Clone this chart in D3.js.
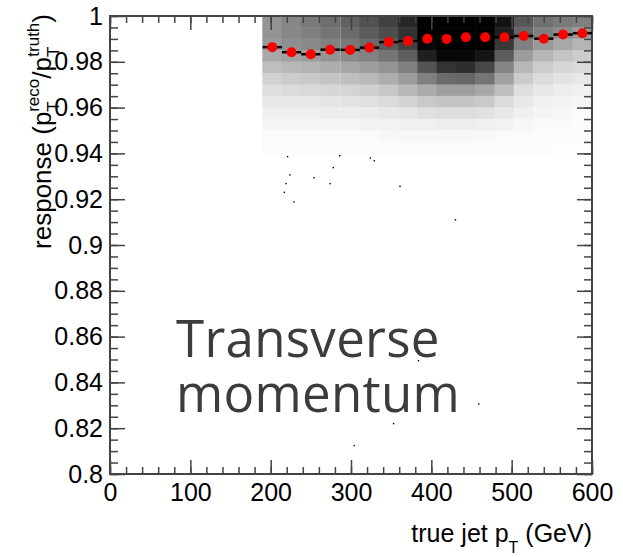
<!DOCTYPE html>
<html>
<head>
<meta charset="utf-8">
<script src="https://cdn.jsdelivr.net/npm/d3@7"></script>
<style>
  body { margin: 0; background: #fff; }
  svg { display: block; }
</style>
</head>
<body>
<div id="chart"></div>
<script>
// profile points (mean response per true-pT bin)
var profileX = [202, 226, 250, 274, 299, 323, 347, 371, 395, 419, 443, 467, 491, 515, 540, 564, 588];
var profileY = [0.9864, 0.9842, 0.9833, 0.9853, 0.9852, 0.9862, 0.9886, 0.9891, 0.9901, 0.9900,
                0.9907, 0.9907, 0.9907, 0.9913, 0.9901, 0.9919, 0.9925];
var binHalf = 12;

// scatter cloud, read as fraction of ink per cell (columns = pT bins, rows = response bins)
var rowTop = [1.0, 0.995, 0.99, 0.985, 0.98, 0.975, 0.97, 0.965, 0.96, 0.955, 0.95, 0.945];
var rowH = 0.005;
var density = [
  [.42,.42,.40,.34,.25,.18,.13,.09,.06,.04,.02,.01],
  [.47,.47,.44,.37,.28,.20,.14,.09,.06,.04,.02,.01],
  [.52,.50,.46,.39,.30,.21,.15,.09,.06,.04,.02,.01],
  [.57,.54,.49,.42,.32,.23,.16,.10,.07,.04,.02,.01],
  [.62,.58,.53,.46,.35,.25,.17,.11,.07,.04,.02,.01],
  [.68,.64,.58,.49,.38,.28,.19,.12,.08,.05,.02,.01],
  [.75,.70,.64,.54,.42,.32,.22,.14,.09,.05,.03,.01],
  [.85,.80,.74,.63,.50,.39,.28,.17,.10,.06,.03,.015],
  [1,1,.97,.88,.67,.50,.33,.21,.12,.06,.03,.015],
  [1,1,1,.97,.80,.58,.38,.23,.13,.07,.03,.015],
  [1,1,1,.97,.82,.60,.38,.23,.13,.07,.03,.015],
  [1,1,1,.92,.72,.54,.34,.21,.12,.06,.03,.01],
  [.92,.88,.78,.64,.48,.37,.25,.14,.09,.05,.02,.01],
  [.66,.60,.50,.39,.28,.20,.13,.09,.06,.03,.02,.01],
  [.56,.50,.40,.29,.20,.14,.09,.06,.04,.02,.01,.01],
  [.52,.45,.34,.23,.16,.11,.07,.05,.03,.02,.01,.005],
  [.50,.40,.29,.20,.14,.09,.06,.04,.02,.01,.01,.005]
];

// isolated entries below the cloud
var outX = [221, 224, 254, 278, 286, 324, 329, 219, 274, 361, 217, 229, 430, 384, 459, 353, 304];
var outY = [0.9386, 0.9306, 0.9294, 0.9338, 0.9390, 0.9380, 0.9368, 0.9268, 0.9268, 0.9256,
            0.9230, 0.9188, 0.9110, 0.8495, 0.8306, 0.8220, 0.8124];

var xTicks = [0, 100, 200, 300, 400, 500, 600];
var yTicks = [0.8, 0.82, 0.84, 0.86, 0.88, 0.9, 0.92, 0.94, 0.96, 0.98, 1];

var margin = {top: 16, right: 31, bottom: 83, left: 110},
    W = 623, H = 557,
    width = W - margin.left - margin.right,
    height = H - margin.top - margin.bottom;

var svg = d3.select("#chart").append("svg")
  .attr("width", W).attr("height", H);

var x = d3.scaleLinear().domain([0, 600]).range([margin.left, margin.left + width]);
var y = d3.scaleLinear().domain([0.8, 1]).range([margin.top + height, margin.top]);

var frameCol = "#444";
var font = "'Liberation Sans', Arial, Helvetica, sans-serif";

// cloud cells
var cells = [];
density.forEach(function(col, i) {
  col.forEach(function(d, j) {
    cells.push({x0: profileX[i] - binHalf, x1: profileX[i] + binHalf, top: rowTop[j], d: d});
  });
});
svg.append("g").selectAll("rect")
  .data(cells)
  .enter().append("rect")
    .attr("x", function(d) { return x(d.x0) - 0.3; })
    .attr("width", function(d) { return x(d.x1) - x(d.x0) + 0.6; })
    .attr("y", function(d) { return y(d.top) - 0.3; })
    .attr("height", function(d) { return y(d.top - rowH) - y(d.top) + 0.6; })
    .style("fill", function(d) { var g = Math.round(255 * (1 - d.d)); return "rgb(" + g + "," + g + "," + g + ")"; });

svg.append("g").selectAll("rect")
  .data(outX)
  .enter().append("rect")
    .attr("x", function(d) { return x(d) - 0.7; })
    .attr("y", function(d, i) { return y(outY[i]) - 0.7; })
    .attr("width", 1.4).attr("height", 1.4)
    .style("fill", "#000");

// axes, ticks pointing inward on all four sides
function addAxis(axis, tx, ty) {
  var g = svg.append("g").attr("transform", "translate(" + tx + "," + ty + ")");
  g.call(axis.tickSizeOuter(0));
  g.select(".domain").remove();
  g.selectAll("line").attr("stroke", frameCol).attr("stroke-width", 1.5);
  g.selectAll("text").style("font-family", font).style("font-size", "25px").attr("fill", "#000");
  return g;
}
var yb = margin.top + height, xr = margin.left + width;

addAxis(d3.axisBottom(x).tickValues(x.ticks(30)).tickSize(-7).tickFormat(""), 0, yb);
addAxis(d3.axisBottom(x).tickValues(xTicks).tickSize(-14).tickPadding(9).tickFormat(function(d) { return d; }), 0, yb);
addAxis(d3.axisTop(x).tickValues(x.ticks(30)).tickSize(-7).tickFormat(""), 0, margin.top);
addAxis(d3.axisTop(x).tickValues(xTicks).tickSize(-14).tickFormat(""), 0, margin.top);

addAxis(d3.axisLeft(y).tickValues(y.ticks(40)).tickSize(-8).tickFormat(""), margin.left, 0);
addAxis(d3.axisLeft(y).tickValues(yTicks).tickSize(-15).tickPadding(7).tickFormat(function(d) { return String(d); }), margin.left, 0);
addAxis(d3.axisRight(y).tickValues(y.ticks(40)).tickSize(-8).tickFormat(""), xr, 0);
addAxis(d3.axisRight(y).tickValues(yTicks).tickSize(-15).tickFormat(""), xr, 0);

svg.append("rect")
  .attr("x", margin.left).attr("y", margin.top)
  .attr("width", width).attr("height", height)
  .style("fill", "none").style("stroke", frameCol).style("stroke-width", 2);

// profile: bin-width bars and red markers
svg.append("g").selectAll("line")
  .data(profileX)
  .enter().append("line")
    .attr("x1", function(d) { return x(d - binHalf); })
    .attr("x2", function(d) { return x(d + binHalf); })
    .attr("y1", function(d, i) { return y(profileY[i]); })
    .attr("y2", function(d, i) { return y(profileY[i]); })
    .style("stroke", "#000").style("stroke-width", 2.5);

svg.append("g").selectAll("circle")
  .data(profileX)
  .enter().append("circle")
    .attr("cx", function(d) { return x(d); })
    .attr("cy", function(d, i) { return y(profileY[i]); })
    .attr("r", 5)
    .style("fill", "#ff0000");

// axis titles
var xt = svg.append("text")
  .attr("x", xr).attr("y", 542)
  .attr("text-anchor", "end")
  .style("font-family", font).style("font-size", "25px");
xt.append("tspan").text("true jet p");
xt.append("tspan").attr("dy", 11).style("font-size", "16px").text("T");
xt.append("tspan").attr("dy", -11).text(" (GeV)");

var yt = svg.append("text")
  .attr("transform", "translate(51,14) rotate(-90)")
  .attr("text-anchor", "end")
  .style("font-family", font).style("font-size", "26px");
yt.append("tspan").text("response (p");
yt.append("tspan").attr("dy", 8).style("font-size", "17px").text("T");
yt.append("tspan").attr("dy", -20).attr("dx", -10).style("font-size", "17px").text("reco");
yt.append("tspan").attr("dy", 12).text("/p");
yt.append("tspan").attr("dy", 8).style("font-size", "17px").text("T");
yt.append("tspan").attr("dy", -20).attr("dx", -10).style("font-size", "17px").text("truth");
yt.append("tspan").attr("dy", 12).text(")");

// caption, two lines
var capStyle = function(t) {
  return t.style("font-family", "'Open Sans', sans-serif").style("font-size", "51px")
    .style("letter-spacing", "0.3px").attr("fill", "#3c3c3a");
};
capStyle(svg.append("text").attr("x", 176).attr("y", 357).text("Transverse"));
capStyle(svg.append("text").attr("x", 176).attr("y", 412).text("momentum"));
</script>
</body>
</html>
